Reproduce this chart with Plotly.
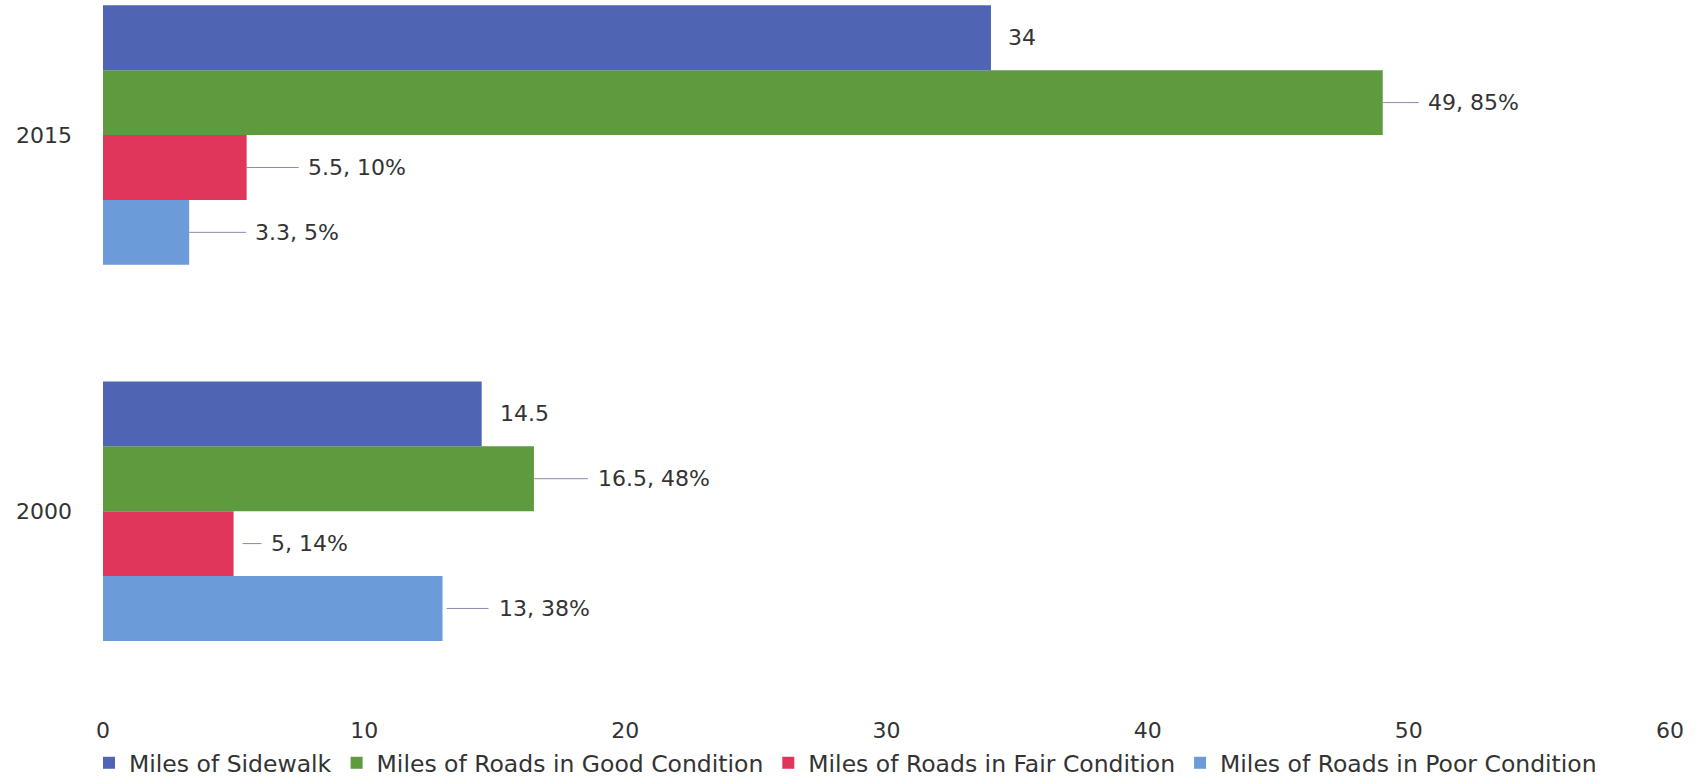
import plotly.graph_objects as go

# ---- data ----
years = ["2000", "2015"]
sidewalk = [14.5, 34]
good = [16.5, 49]
fair = [5, 5.5]
poor = [13, 3.3]
good_pct = [48, 85]
fair_pct = [14, 10]
poor_pct = [38, 5]
series_names = ["Miles of Sidewalk", "Miles of Roads in Good Condition",
                "Miles of Roads in Fair Condition", "Miles of Roads in Poor Condition"]
x_ticks = [0, 10, 20, 30, 40, 50, 60]

# ---- style ----
colors = ["#5064B4", "#5E9A3E", "#E0365C", "#6B9BD8"]
FONT = "DejaVu Sans"
TXT = "#333333"
LINE = "#9088AE"
BARGAP = 0.31
W, H = 1706, 781
L, R, T, B = 103, 36, 0, 66

fig = go.Figure()
# plotly stacks grouped horizontal bars bottom-up, so add in reverse
order = [3, 2, 1, 0]
vals = [sidewalk, good, fair, poor]
for i in order:
    fig.add_trace(go.Bar(
        y=years, x=vals[i], orientation="h", name=series_names[i],
        marker=dict(color=colors[i], line=dict(width=0)),
        hoverinfo="x+name",
    ))

# label offsets in pixels: (text start, line start, line end) per series/year
bw = (1 - BARGAP) / 4
pos = {0: 1.5 * bw, 1: 0.5 * bw, 2: -0.5 * bw, 3: -1.5 * bw}
label_style = {
    (0, 0): (18, None, None), (0, 1): (17, None, None),
    (1, 0): (64, 0, 54), (1, 1): (45, 0, 36),
    (2, 0): (37, 9, 28), (2, 1): (61, 0, 52),
    (3, 0): (56, 4, 46), (3, 1): (66, 0, 57),
}
pcts = [None, good_pct, fair_pct, poor_pct]
annotations = []
for s in range(4):
    for yi in range(2):
        v = vals[s][yi]
        txt = f"{v:g}" if pcts[s] is None else f"{v:g}, {pcts[s][yi]}%"
        tstart, l0, l1 = label_style[(s, yi)]
        yy = yi + pos[s]
        if l0 is None:
            annotations.append(dict(x=v, y=yy, xref="x", yref="y", text=txt,
                                    showarrow=False, xanchor="left", xshift=tstart - 2,
                                    font=dict(family=FONT, size=22, color=TXT)))
        else:
            annotations.append(dict(x=v, y=yy, xref="x", yref="y", text=txt,
                                    showarrow=True, arrowhead=0, arrowwidth=1,
                                    arrowcolor=LINE, ax=tstart - 2, ay=0,
                                    xanchor="left", yanchor="middle",
                                    standoff=l0, startstandoff=tstart - l1 - 2,
                                    font=dict(family=FONT, size=22, color=TXT)))

fig.update_layout(
    width=W, height=H,
    margin=dict(l=L, r=R, t=T, b=B, pad=0, autoexpand=False),
    paper_bgcolor="white", plot_bgcolor="white",
    barmode="group", bargap=BARGAP, bargroupgap=0,
    font=dict(family=FONT, size=22, color=TXT),
    showlegend=True,
    legend=dict(orientation="h", traceorder="reversed",
                xref="container", x=89 / W, xanchor="left",
                yref="container", y=1 - 763 / H, yanchor="middle",
                font=dict(family=FONT, size=23.5, color=TXT),
                itemwidth=30, bgcolor="rgba(0,0,0,0)"),
    annotations=annotations,
)
fig.update_xaxes(range=[0, 60], tickvals=x_ticks, showgrid=False, zeroline=False,
                 showline=False, ticks="", tickfont=dict(family=FONT, size=22, color=TXT))
fig.update_yaxes(type="category", categoryarray=years, categoryorder="array",
                 range=[-0.542, 1.359], showgrid=False, zeroline=False, showline=False,
                 ticks="", ticklabelstandoff=30,
                 tickfont=dict(family=FONT, size=22, color=TXT))

fig.write_html("out.html")
